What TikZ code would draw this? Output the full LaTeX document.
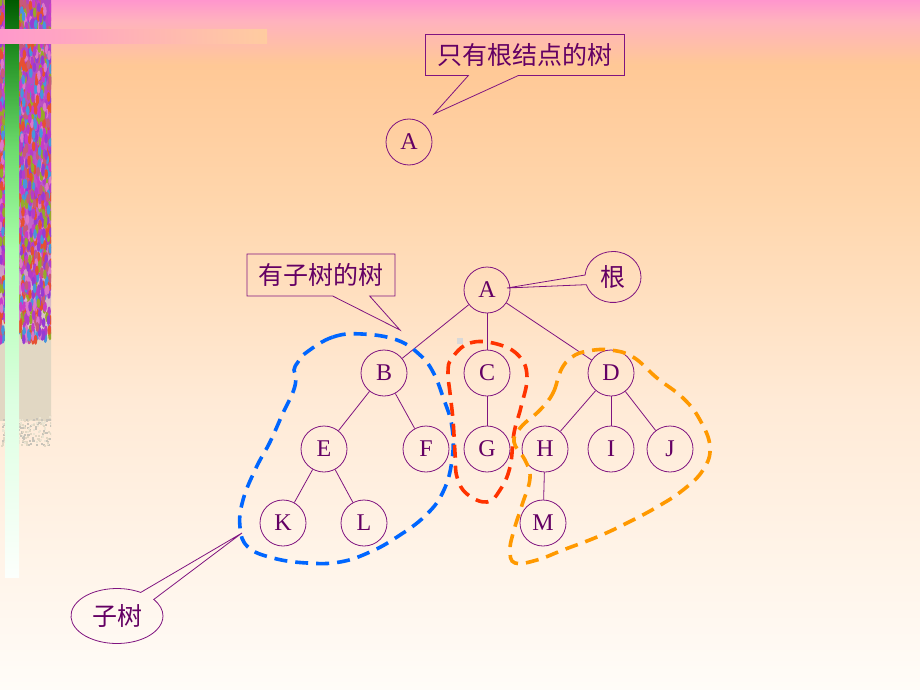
\documentclass[tikz,border=0pt]{standalone}
\usepackage{fontspec}
\setmainfont{Liberation Serif}
\newfontfamily\cjk{Noto Sans CJK SC}
\usetikzlibrary{shapes.geometric,shapes.callouts}
\definecolor{bgA}{RGB}{255,150,205}
\definecolor{bgB}{RGB}{255,178,190}
\definecolor{bgC}{RGB}{255,200,150}
\definecolor{bgD}{RGB}{255,214,172}
\definecolor{bgE}{RGB}{255,234,214}
\definecolor{bgF}{RGB}{255,252,248}
\definecolor{gA}{RGB}{0,90,0}
\definecolor{gB}{RGB}{40,150,40}
\definecolor{gC}{RGB}{110,220,110}
\definecolor{gD}{RGB}{170,255,170}
\definecolor{gE}{RGB}{220,255,225}
\definecolor{gF}{RGB}{252,255,252}
\definecolor{tA}{RGB}{180,70,190}
\definecolor{tB}{RGB}{190,90,200}
\definecolor{tC}{RGB}{210,170,200}
\definecolor{tD}{RGB}{225,215,195}
\definecolor{tx0}{RGB}{200,60,200}
\definecolor{tx1}{RGB}{150,60,210}
\definecolor{tx2}{RGB}{230,80,50}
\definecolor{tx3}{RGB}{150,170,40}
\definecolor{tx4}{RGB}{70,150,220}
\definecolor{tx5}{RGB}{220,120,200}
\definecolor{tx6}{RGB}{180,60,200}
\definecolor{tx7}{RGB}{200,90,120}
\definecolor{bg0}{RGB}{225,215,195}
\definecolor{bg1}{RGB}{200,195,185}
\definecolor{bg2}{RGB}{235,228,210}
\definecolor{bandL}{RGB}{255,153,204}
\definecolor{bandR}{RGB}{255,204,160}
\definecolor{lnc}{RGB}{128,20,128}
\definecolor{txc}{RGB}{100,0,100}
\definecolor{dblue}{RGB}{0,102,255}
\definecolor{dred}{RGB}{255,51,0}
\definecolor{dorange}{RGB}{255,153,0}
\pgfdeclareverticalshading{bgshade}{100bp}{color(0bp)=(bgF); color(25bp)=(bgF); color(46bp)=(bgE); color(60.5bp)=(bgD); color(70.3bp)=(bgC); color(73.5bp)=(bgB); color(75bp)=(bgA); color(100bp)=(bgA)}
\pgfdeclareverticalshading{grshade}{100bp}{color(0bp)=(gF); color(25bp)=(gF); color(40.3bp)=(gE); color(53.3bp)=(gD); color(62bp)=(gC); color(69.8bp)=(gB); color(75bp)=(gA); color(100bp)=(gA)}
\pgfdeclareverticalshading{txshade}{100bp}{color(0bp)=(tD); color(25bp)=(tD); color(35bp)=(tD); color(41bp)=(tC); color(50bp)=(tB); color(75bp)=(tA); color(100bp)=(tA)}
\tikzset{
  nd/.style={circle, draw=lnc, line width=0.8pt, minimum size=46pt, inner sep=0pt, text=txc, font=\fontsize{24}{24}\selectfont},
  lnk/.style={draw=lnc, line width=0.8pt},
  cjkt/.style={text=txc, font=\cjk\fontsize{25}{25}\selectfont},
  co/.style={draw=lnc, line width=0.8pt, inner sep=0pt},
  dsh/.style={line width=3.6pt, dash pattern=on 13pt off 8pt}
}
\begin{document}
\begin{tikzpicture}[x=1pt,y=-1pt]
\useasboundingbox (0,0) rectangle (920,690);
\shade[shading=bgshade] (0,0) rectangle (920,690);
% left decorative strip
\begin{scope}
\clip (0,0) rectangle (51,450);
\shade[shading=txshade] (0,0) rectangle (51,420);
\pgfmathsetseed{12345}
\foreach \i in {1,...,220}{
  \pgfmathsetmacro\xx{rnd*51}
  \pgfmathsetmacro\yy{415+rnd*30}
  \pgfmathtruncatemacro\cc{floor(rnd*3)}
  \fill[fill=bg\cc] (\xx,\yy) rectangle ++(2,2);
}
\foreach \i in {1,...,1400}{
  \pgfmathsetmacro\xx{rnd*51}
  \pgfmathsetmacro\yy{rnd*340}
  \pgfmathtruncatemacro\cc{floor(rnd*8)}
  \fill[fill=tx\cc] (\xx,\yy) ellipse (1.8 and 5);
}
\end{scope}
\shade[shading=grshade] (5,0) rectangle (19,577);
\shade[left color=bandL, right color=bandR] (0,30) rectangle (267,44);
\fill[gray!30] (457,338) rectangle (463,344);
% single node tree
\node[nd] (A0) at (409,142) {A};
\coordinate (p1) at (434,114);
\node[rectangle callout, co, cjkt, minimum width=199pt, minimum height=41pt, callout absolute pointer=(p1), callout pointer width=50pt] (c1) at (525,55) {只有根结点的树};
% tree
\node[nd] (A) at (487,290) {A};
\node[nd] (B) at (384,373) {B};
\node[nd] (C) at (487,373) {C};
\node[nd] (D) at (611,373) {D};
\node[nd] (E) at (324,449) {E};
\node[nd] (F) at (426,449) {F};
\node[nd] (G) at (487,449) {G};
\node[nd] (H) at (545,449) {H};
\node[nd] (I) at (611,449) {I};
\node[nd] (J) at (670,449) {J};
\node[nd] (K) at (283,523) {K};
\node[nd] (L) at (364,523) {L};
\node[nd] (M) at (543,523) {M};
\foreach \a/\b in {A/B,A/C,A/D,B/E,B/F,C/G,D/H,D/I,D/J,E/K,E/L,H/M}
  \draw[lnk] (\a) -- (\b);
% dashed subtree outlines
\draw[dsh, draw=dblue] plot[smooth cycle, tension=0.7] coordinates {(307,352) (333,337) (362,334) (397,340) (420,355) (433,372) (443,397) (452,427) (452,460) (443,492) (425,516) (397,537) (370,552) (340,562) (307,563) (273,558) (248,547) (240,527) (243,500) (256,468) (270,442) (283,413) (293,392) (296,378) (294,370) (298,362)};
\draw[dsh, draw=dred] plot[smooth cycle, tension=0.7] coordinates {(452,358) (470,343) (497,344) (519,356) (527,377) (521,407) (514,433) (510,467) (500,490) (487,502) (467,494) (457,477) (455,453) (453,420) (450,393) (448,372)};
\draw[dsh, draw=dorange] plot[smooth cycle, tension=0.7] coordinates {(540,410) (553,393) (561,370) (572,357) (588,351) (610,350) (633,357) (657,378) (683,398) (700,420) (710,447) (703,470) (683,490) (657,507) (627,523) (597,537) (563,550) (537,560) (515,563) (510,550) (514,530) (522,505) (530,478) (525,460) (514,442) (521,427)};
% callouts
\coordinate (p2) at (400,330);
\node[rectangle callout, co, cjkt, minimum width=148pt, minimum height=42pt, callout absolute pointer=(p2), callout pointer width=37pt] (c2) at (321,275) {有子树的树};
\coordinate (p3) at (507,288);
\node[ellipse callout, co, cjkt, minimum width=56pt, minimum height=51pt, callout absolute pointer=(p3), callout pointer arc=22] (c3) at (613,277) {根};
\coordinate (p4) at (242,533);
\node[ellipse callout, co, cjkt, minimum width=92pt, minimum height=55pt, callout absolute pointer=(p4), callout pointer arc=22] (c4) at (117,616) {子树};
\end{tikzpicture}
\end{document}
